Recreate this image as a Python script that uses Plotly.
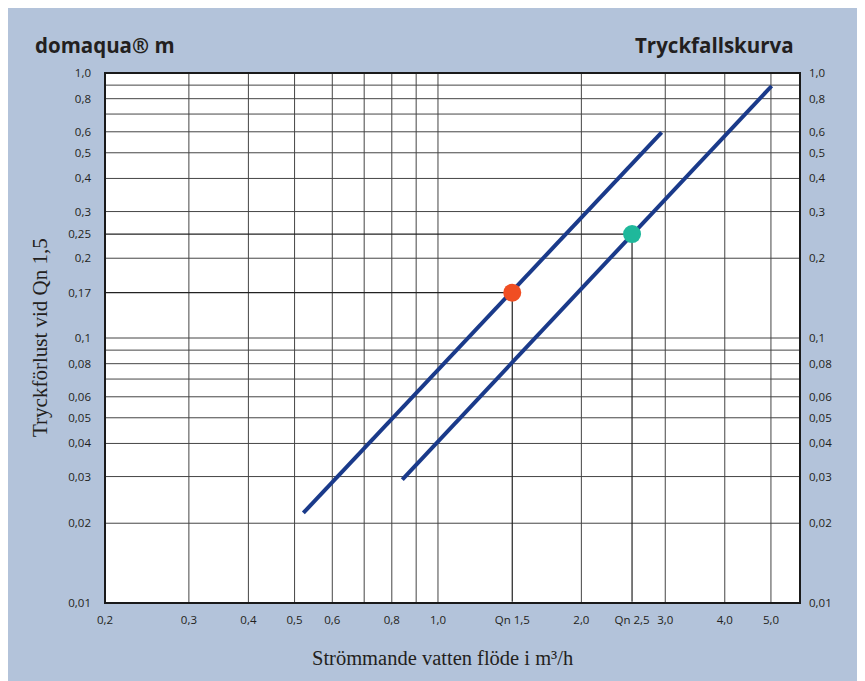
import plotly.graph_objects as go
import math

# ---- data ----
x_tick_vals = [0.2, 0.3, 0.4, 0.5, 0.6, 0.8, 1.0, 2.0, 3.0, 4.0, 5.0]
x_tick_text = ["0,2", "0,3", "0,4", "0,5", "0,6", "0,8", "1,0", "2,0", "3,0", "4,0", "5,0"]
x_grid = [0.3, 0.4, 0.5, 0.6, 0.7, 0.8, 0.9, 1.0, 2.0, 3.0, 4.0, 5.0]

y_tick_vals = [1.0, 0.8, 0.6, 0.5, 0.4, 0.3, 0.2, 0.1, 0.08, 0.06, 0.05, 0.04, 0.03, 0.02, 0.01]
y_tick_text = ["1,0", "0,8", "0,6", "0,5", "0,4", "0,3", "0,2", "0,1", "0,08", "0,06", "0,05", "0,04", "0,03", "0,02", "0,01"]
y_grid = [0.9, 0.8, 0.7, 0.6, 0.5, 0.4, 0.3, 0.2, 0.1, 0.09, 0.08, 0.07, 0.06, 0.05, 0.04, 0.03, 0.02]

# Qn operating points (as drawn)
qn_names = ["Qn 1,5", "Qn 2,5"]
qn_x = [1.432, 2.555]
qn_y = [0.1483, 0.2466]
qn_y_labels = ["0,17", "0,25"]
qn_colors = ["#f04e23", "#1fb89b"]

# pressure-loss curves (start / end points)
curve_a_x = [0.5217, 2.948]
curve_a_y = [0.02187, 0.5972]
curve_b_x = [0.8416, 5.017]
curve_b_y = [0.02922, 0.8932]

x_min, x_max = 0.2, 5.754
y_min, y_max = 0.01, 1.0

xr = [math.log10(x_min), math.log10(x_max)]
yr = [math.log10(y_min), math.log10(y_max)]

BG = "#b3c3da"
NAVY = "#1a3a8a"
GRID = "#454545"
TXT = "#231f20"

fig = go.Figure()

# vertical grid lines
gx, gy = [], []
for v in x_grid:
    gx += [v, v, None]
    gy += [y_min, y_max, None]
fig.add_trace(go.Scatter(x=gx, y=gy, mode="lines", line=dict(color=GRID, width=1),
                         hoverinfo="skip", showlegend=False))
# horizontal grid lines
hx, hy = [], []
for v in y_grid:
    hx += [x_min, x_max, None]
    hy += [v, v, None]
fig.add_trace(go.Scatter(x=hx, y=hy, mode="lines", line=dict(color=GRID, width=1),
                         hoverinfo="skip", showlegend=False))

# reference lines to Qn points
rx, ry = [], []
for qx, qy in zip(qn_x, qn_y):
    rx += [x_min, qx, None, qx, qx, None]
    ry += [qy, qy, None, qy, y_min * 1.01, None]
fig.add_trace(go.Scatter(x=rx, y=ry, mode="lines", line=dict(color="#222222", width=1.2),
                         hoverinfo="skip", showlegend=False))

# curves
for cx, cy in [(curve_a_x, curve_a_y), (curve_b_x, curve_b_y)]:
    fig.add_trace(go.Scatter(x=cx, y=cy, mode="lines", line=dict(color=NAVY, width=4),
                             hoverinfo="skip", showlegend=False))

# Qn points
fig.add_trace(go.Scatter(x=qn_x, y=qn_y, mode="markers",
                         marker=dict(size=18, color=qn_colors, line=dict(width=0)),
                         hoverinfo="skip", showlegend=False))

# invisible trace for right axis
fig.add_trace(go.Scatter(x=[x_min], y=[y_min], yaxis="y2", mode="markers",
                         marker=dict(opacity=0), hoverinfo="skip", showlegend=False))

xt_vals = x_tick_vals + qn_x
xt_text = x_tick_text + qn_names
yl_vals = y_tick_vals + qn_y
yl_text = y_tick_text + qn_y_labels

tickfont = dict(family="Open Sans", size=11.5, color=TXT)

W, H = 695, 530  # plot area size in px

fig.update_layout(
    width=865, height=681,
    margin=dict(l=97, r=73, t=65, b=86),
    paper_bgcolor=BG,
    plot_bgcolor="rgba(0,0,0,0)",
    xaxis=dict(type="log", range=xr, tickmode="array", tickvals=xt_vals, ticktext=xt_text,
               showgrid=False, zeroline=False, ticks="", tickfont=tickfont,
               ticklabelstandoff=8, showline=False),
    yaxis=dict(type="log", range=yr, tickmode="array", tickvals=yl_vals, ticktext=yl_text,
               showgrid=False, zeroline=False, ticks="", tickfont=tickfont,
               ticklabelstandoff=13, showline=False),
    yaxis2=dict(type="log", range=yr, overlaying="y", side="right", tickmode="array",
                tickvals=y_tick_vals, ticktext=y_tick_text, showgrid=False, zeroline=False,
                ticks="", tickfont=tickfont, ticklabelstandoff=8, showline=False),
    shapes=[
        dict(type="rect", xref="paper", yref="paper", x0=0, x1=1, y0=0, y1=1,
             fillcolor="white", line=dict(width=0), layer="below"),
        dict(type="rect", xref="paper", yref="paper", x0=0, x1=1, y0=0, y1=1,
             line=dict(color="#1a1a1a", width=2), layer="above"),
    ],
    annotations=[
        dict(text="<b>domaqua® m</b>", xref="paper", yref="paper", x=-72 / W,
             y=558 / H, xanchor="left", yanchor="middle", showarrow=False,
             font=dict(family="Open Sans", size=20.5, color=TXT)),
        dict(text="<b>Tryckfallskurva</b>", xref="paper", yref="paper", x=691 / W,
             y=558 / H, xanchor="right", yanchor="middle", showarrow=False,
             font=dict(family="Open Sans", size=20.5, color=TXT)),
        dict(text="Strömmande vatten flöde i m³/h", xref="paper", yref="paper",
             x=337 / W, y=-55 / H, xanchor="center", yanchor="middle",
             showarrow=False, font=dict(family="Liberation Serif", size=20.5, color=TXT)),
        dict(text="Tryckförlust vid Qn 1,5", xref="paper", yref="paper",
             x=-65 / W, y=0.5, xanchor="center", yanchor="middle",
             textangle=-90, showarrow=False,
             font=dict(family="Liberation Serif", size=21, color=TXT)),
    ],
)

fig.write_html("out.html")
